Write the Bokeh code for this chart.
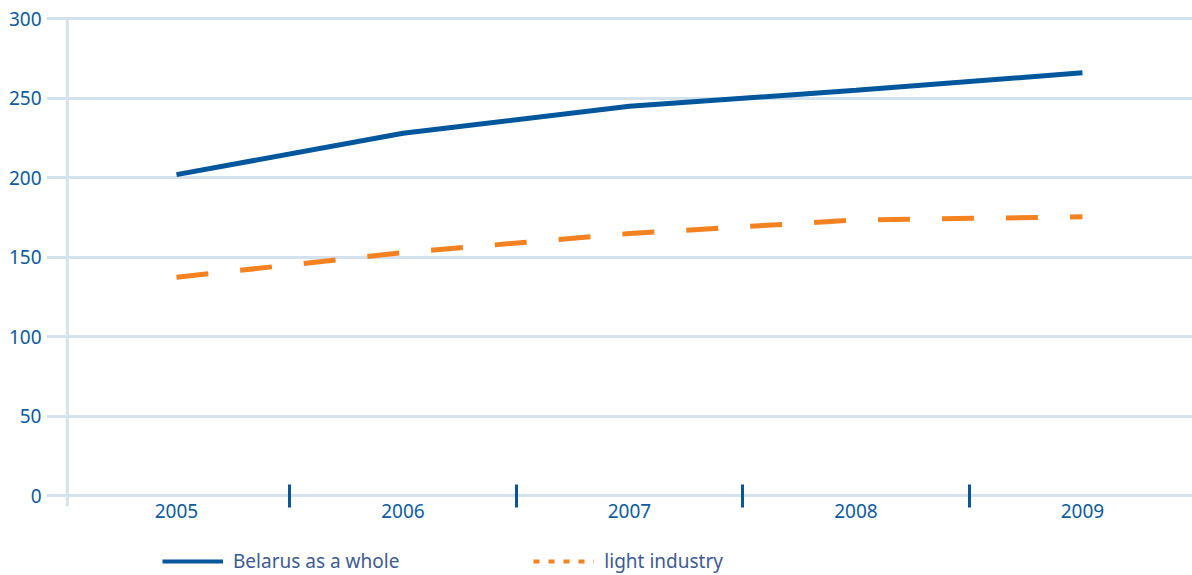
from bokeh.plotting import figure
from bokeh.models import (Range1d, LinearAxis, FixedTicker, Grid, Legend,
                          LegendItem, ColumnDataSource)
from bokeh.embed import file_html
from bokeh.resources import INLINE

# Index values by year
years = [2005, 2006, 2007, 2008, 2009]
belarus = [202, 228, 245, 255, 266]
light_industry = [137.5, 153, 165, 173.5, 175.5]

y_ticks = [0, 50, 100, 150, 200, 250, 300]
year_separators = [2005.5, 2006.5, 2007.5, 2008.5]

BLUE = "#00579b"
ORANGE = "#f58220"
GRID = "#d5e2ed"
LABEL = "#0c5b9c"
LEGEND_TEXT = "#3d5b8f"
FONT = "Noto Sans"

# the plot area runs to the bottom edge so the legend below the axis stays visible
p = figure(width=1192, height=575, output_backend="svg", toolbar_location=None,
           x_range=Range1d(2004.426, 2009.486), y_range=Range1d(-49.98, 305.2),
           x_axis_type=None, y_axis_type=None,
           min_border_left=46, min_border_right=0, min_border_top=10,
           min_border_bottom=0)
p.outline_line_color = None
p.background_fill_color = "white"
p.border_fill_color = "white"

# horizontal grid
p.add_layout(Grid(dimension=1, ticker=FixedTicker(ticks=y_ticks),
                  grid_line_color=GRID, grid_line_width=3))

# vertical axis rule
p.segment(x0=[2004.518], y0=[-6.3], x1=[2004.518], y1=[300],
          line_color=GRID, line_width=3)

# value axis
yax = LinearAxis(ticker=FixedTicker(ticks=y_ticks),
                 axis_line_color=None, major_tick_line_color=None,
                 minor_tick_line_color=None, major_tick_in=0, major_tick_out=0,
                 minor_tick_in=0, minor_tick_out=0, major_label_standoff=5,
                 major_label_text_font=FONT, major_label_text_font_size="19px",
                 major_label_text_color=LABEL)
p.add_layout(yax, "left")

# year axis on the zero line, with separators between the years
xax = LinearAxis(ticker=FixedTicker(ticks=years, minor_ticks=year_separators),
                 fixed_location=0,
                 axis_line_color=None, major_tick_line_color=None,
                 major_tick_in=0, major_tick_out=0,
                 minor_tick_in=11, minor_tick_out=12,
                 minor_tick_line_color="#0a5597", minor_tick_line_width=3,
                 major_label_standoff=-4,
                 major_label_text_font=FONT, major_label_text_font_size="19px",
                 major_label_text_color=LABEL)
p.add_layout(xax, "below")

src = ColumnDataSource(dict(year=years, belarus=belarus, light=light_industry))
p.line("year", "belarus", source=src, line_color=BLUE, line_width=5)
p.line("year", "light", source=src, line_color=ORANGE, line_width=5,
       line_dash="32 32")

# legend swatches: hidden copies of the series with the legend's own stroke style
leg_blue = p.line("year", "belarus", source=src, line_color=BLUE, line_width=4,
                  visible=False)
leg_orange = p.line("year", "light", source=src, line_color=ORANGE, line_width=4,
                    line_dash="6 9", visible=False)

legend = Legend(items=[LegendItem(label="Belarus as a whole", renderers=[leg_blue]),
                       LegendItem(label="light industry", renderers=[leg_orange])],
                orientation="horizontal", location=(116, 1),
                glyph_width=61, glyph_height=20, label_standoff=10, spacing=134,
                padding=0, margin=0, border_line_color=None,
                background_fill_alpha=0,
                label_text_font=FONT, label_text_font_size="19px",
                label_text_color=LEGEND_TEXT)
p.add_layout(legend, "center")

open("out.html", "w").write(file_html(p, INLINE))
